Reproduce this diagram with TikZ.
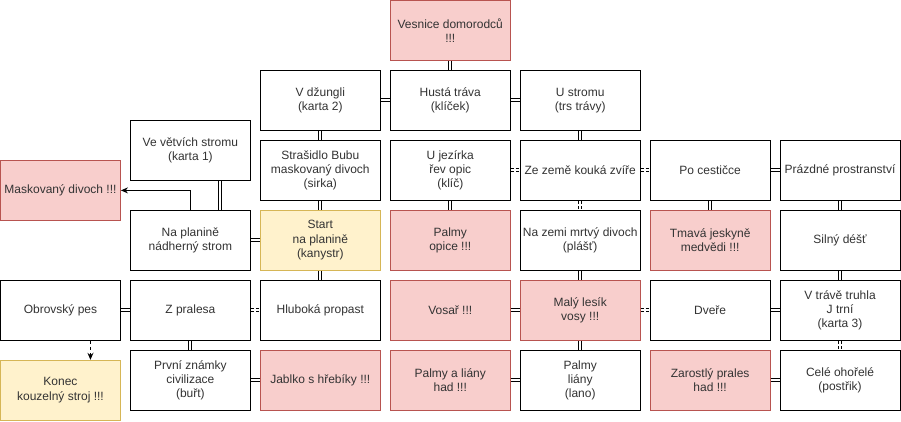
\documentclass[tikz,border=0pt]{standalone}
\usepackage{fontspec}
\setmainfont{Liberation Sans}
\usetikzlibrary{arrows.meta}
\definecolor{redfill}{HTML}{F8CECC}
\definecolor{reddraw}{HTML}{B85450}
\definecolor{yelfill}{HTML}{FFF2CC}
\definecolor{yeldraw}{HTML}{D6B656}
\tikzset{
  room/.style={rectangle,draw=black,fill=white,line width=1pt,minimum width=120pt,minimum height=60pt,
    inner sep=1pt,align=center,text=black!80,font=\fontsize{12}{14.4}\selectfont},
  danger/.style={room,draw=reddraw,fill=redfill},
  goal/.style={room,draw=yeldraw,fill=yelfill},
  link/.style={-,draw=black,line width=1pt,double=white,double distance=2pt},
  hidden/.style={link,dash pattern=on 3pt off 2pt},
}
\begin{document}
\begin{tikzpicture}[x=1pt,y=-1pt]
\useasboundingbox (-0.5,-0.5) rectangle (901,421);

\node[danger] (maskovany) at (60,190) {Maskovaný divoch !!!};
\node[room] (pes) at (60,310) {Obrovský pes};
\node[goal] (konec) at (60,390) {Konec\\kouzelný stroj !!!};

\node[room] (vetve) at (190,150) {Ve větvích stromu\\(karta 1)};
\node[room] (planina) at (190,240) {Na planině\\nádherný strom};
\node[room] (pralesa) at (190,310) {Z pralesa};
\node[room] (civilizace) at (190,380) {První známky\\civilizace\\(buřt)};

\node[room] (dzungle) at (320,100) {V džungli\\(karta 2)};
\node[room] (strasidlo) at (320,170) {Strašidlo Bubu\\maskovaný divoch\\(sirka)};
\node[goal] (start) at (320,240) {Start\\na planině\\(kanystr)};
\node[room] (propast) at (320,310) {Hluboká propast};
\node[danger] (jablko) at (320,380) {Jablko s hřebíky !!!};

\node[danger] (vesnice) at (450,30) {Vesnice domorodců\\!!!};
\node[room] (trava) at (450,100) {Hustá tráva\\(klíček)};
\node[room] (jezirko) at (450,170) {U jezírka\\řev opic\\(klíč)};
\node[danger] (opice) at (450,240) {Palmy\\opice !!!};
\node[danger] (vosar) at (450,310) {Vosař !!!};
\node[danger] (liany) at (450,380) {Palmy a liány\\had !!!};

\node[room] (strom) at (580,100) {U stromu\\(trs trávy)};
\node[room] (zvire) at (580,170) {Ze země kouká zvíře};
\node[room] (mrtvy) at (580,240) {Na zemi mrtvý divoch\\(plášť)};
\node[danger] (lesik) at (580,310) {Malý lesík\\vosy !!!};
\node[room] (palmy) at (580,380) {Palmy\\liány\\(lano)};

\node[room] (cesticka) at (710,170) {Po cestičce};
\node[danger] (jeskyne) at (710,240) {Tmavá jeskyně\\medvědi !!!};
\node[room] (dvere) at (710,310) {Dveře};
\node[danger] (prales) at (710,380) {Zarostlý prales\\had !!!};

\node[room] (prostor) at (840,170) {Prázdné prostranství};
\node[room] (dest) at (840,240) {Silný déšť};
\node[room] (truhla) at (840,310) {V trávě truhla\\J trní\\(karta 3)};
\node[room] (ohorele) at (840,380) {Celé ohořelé\\(postřik)};

\draw [link] (vesnice) -- (trava);
\draw [link] (dzungle) -- (trava); \draw [link] (trava) -- (strom);
\draw [link] (dzungle) -- (strasidlo); \draw [link] (strom) -- (zvire);
\draw [link] (strasidlo) -- (start); \draw [link] (start) -- (propast);
\draw [link] ([xshift=30pt]vetve.south) -- ([xshift=30pt]planina.north);
\draw [link] (planina) -- (start);
\draw [hidden] (jezirko) -- (zvire); \draw [hidden] (zvire) -- (cesticka);
\draw [hidden] (zvire) -- (mrtvy);
\draw [link] (jezirko) -- (opice);
\draw [link] (cesticka) -- (prostor); \draw [link] (cesticka) -- (jeskyne);
\draw [link] (prostor) -- (dest); \draw [link] (dest) -- (truhla);
\draw [link] (mrtvy) -- (lesik);
\draw [link] (pes) -- (pralesa); \draw [hidden] (pralesa) -- (propast);
\draw [link] (pralesa) -- (civilizace); \draw [link] (civilizace) -- (jablko);
\draw [link] (vosar) -- (lesik); \draw [hidden] (lesik) -- (dvere);
\draw [link] (dvere) -- (truhla); \draw [hidden] (truhla) -- (ohorele);
\draw [link] (lesik) -- (palmy);
\draw [link] (liany) -- (palmy); \draw [link] (prales) -- (ohorele);

% sipky
\draw [-{Stealth[length=7pt,width=6pt]},line width=1pt] (planina.north) |- (maskovany.east);
\draw [-{Stealth[length=7pt,width=6pt]},line width=1pt,dashed] ([xshift=30pt]pes.south) -- ([xshift=30pt]konec.north);

\end{tikzpicture}
\end{document}
